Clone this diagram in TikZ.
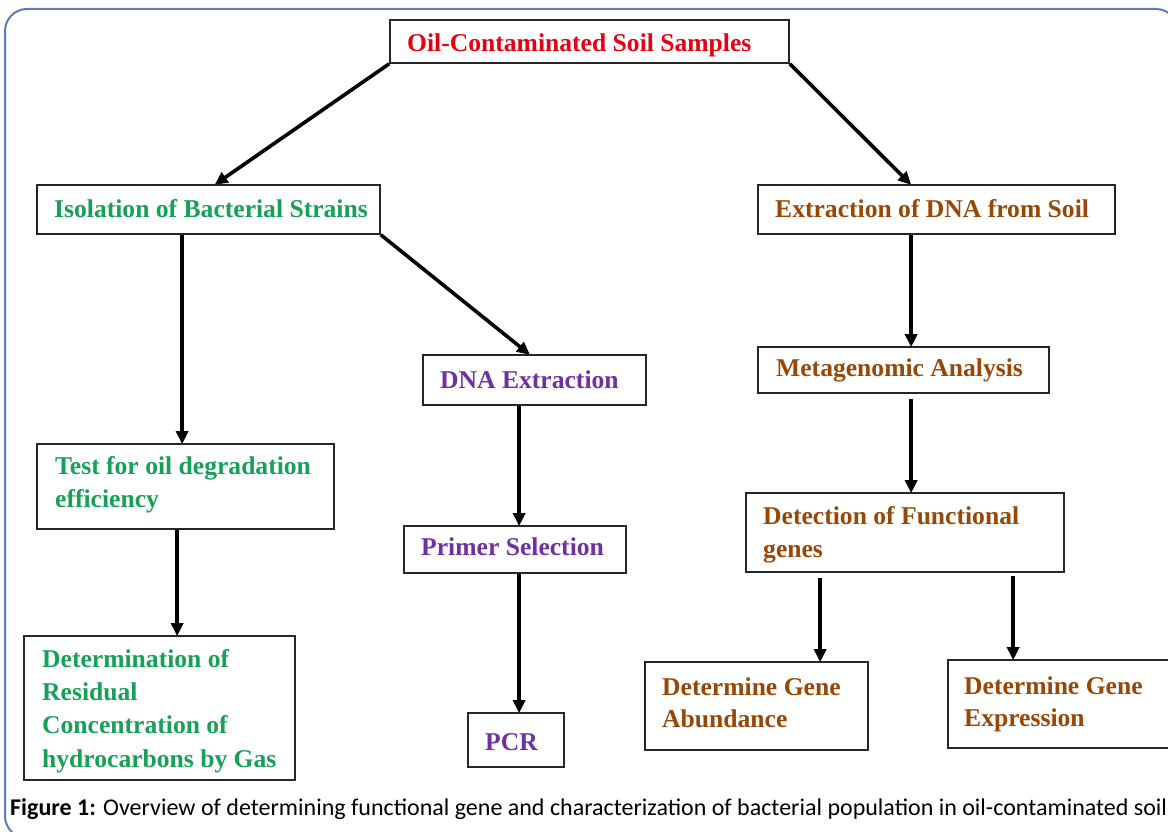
\documentclass[tikz,border=0pt]{standalone}
\usepackage{fontspec}
\setmainfont{Liberation Serif}
\newfontfamily\capfont{Carlito}
\usetikzlibrary{arrows.meta,calc,fit}
\definecolor{framec}{RGB}{96,122,186}
\definecolor{redt}{RGB}{232,0,18}
\definecolor{greent}{RGB}{22,160,88}
\definecolor{purplet}{RGB}{112,48,160}
\definecolor{brownt}{RGB}{152,72,6}
\begin{document}
\begin{tikzpicture}[x=1pt,y=-1pt,
  box/.style={draw=black!85,line width=1.7pt,inner sep=0pt,fill=white},
  lbl/.style={anchor=base west,inner sep=0pt,font=\fontsize{25.6}{30}\selectfont\bfseries},
  arr/.style={draw=black,line width=3.6pt,-{Triangle[length=13pt,width=12pt]},shorten >=-1pt}]
\useasboundingbox (0,0) rectangle (1168,832);
\begin{scope}
\clip (0,0) rectangle (1168,832);
\draw[framec,line width=2pt,rounded corners=22pt] (5,9) rectangle (1178,838);
\end{scope}
% boxes
\node[box,fit={(390,20)(789,63)}] (top) {};
\node[box,fit={(37,185)(380,234)}] (iso) {};
\node[box,fit={(758,185)(1115,234)}] (ext) {};
\node[box,fit={(423,355)(646,405)}] (dna) {};
\node[box,fit={(758,347)(1049,393)}] (meta) {};
\node[box,fit={(37,444)(334,529)}] (test) {};
\node[box,fit={(404,526)(626,573)}] (primer) {};
\node[box,fit={(746,493)(1064,572)}] (detf) {};
\node[box,fit={(24,636)(295,780)}] (detr) {};
\node[box,fit={(468,713)(564,767)}] (pcr) {};
\node[box,fit={(645,662)(868,750)}] (abund) {};
\node[box,fit={(948,660)(1185,748)}] (expr) {};
% texts
\node[lbl,text=redt] (ttop) at (407,52) {Oil-Contaminated Soil Samples};
\node[lbl,text=greent] (tiso) at (54,217) {Isolation of Bacterial Strains};
\node[lbl,text=brownt] (text) at (775,217) {Extraction of DNA from Soil};
\node[lbl,text=purplet] (tdna) at (440,388) {DNA Extraction};
\node[lbl,text=brownt] (tmeta) at (776,376) {Metagenomic Analysis};
\node[lbl,text=greent] (ttest1) at (55,474) {Test for oil degradation};
\node[lbl,text=greent] (ttest2) at (55,507) {efficiency};
\node[lbl,text=purplet] (tprim) at (421,555) {Primer Selection};
\node[lbl,text=brownt] (tdetf1) at (763,524) {Detection of Functional};
\node[lbl,text=brownt] (tdetf2) at (763,557) {genes};
\node[lbl,text=greent] (tdr1) at (42,667) {Determination of};
\node[lbl,text=greent] (tdr2) at (42,700) {Residual};
\node[lbl,text=greent] (tdr3) at (42,733) {Concentration of};
\node[lbl,text=greent] (tdr4) at (42,767) {hydrocarbons by Gas};
\node[lbl,text=purplet] (tpcr) at (485,750) {PCR};
\node[lbl,text=brownt] (tab1) at (662,695) {Determine Gene};
\node[lbl,text=brownt] (tab2) at (662,727) {Abundance};
\node[lbl,text=brownt] (tex1) at (964,694) {Determine Gene};
\node[lbl,text=brownt] (tex2) at (964,726) {Expression};
% caption
\node[anchor=base west,inner sep=0pt] (cap) at (10,815) {\resizebox{1157pt}{!}{\capfont\fontsize{20}{24}\selectfont\textbf{Figure 1:} Overview of determining functional gene and characterization of bacterial population in oil-contaminated soil}};
% connectors
\draw[arr] (top.south west) -- ($(iso.north)+(7,0)$);
\draw[arr] (top.south east) -- ($(ext.north)+(-26,0)$);
\draw[arr] ($(iso.south west)+(146,0)$) -- ($(test.north west)+(146,0)$);
\draw[arr] (iso.south east) -- ($(dna.north west)+(107,0)$);
\draw[arr] ($(dna.south west)+(97,0)$) -- ($(primer.north west)+(116,0)$);
\draw[arr] ($(test.south west)+(141,0)$) -- ($(detr.north west)+(154,0)$);
\draw[arr] ($(primer.south west)+(116,0)$) -- ($(pcr.north west)+(52,0)$);
\draw[arr] ($(ext.south west)+(154,0)$) -- ($(meta.north west)+(154,0)$);
\draw[arr] ($(meta.south west)+(154,5)$) -- ($(detf.north west)+(166,0)$);
\draw[arr] ($(detf.south west)+(75,5)$) -- ($(abund.north west)+(176,0)$);
\draw[arr] ($(detf.south west)+(268,3)$) -- ($(expr.north west)+(66,0)$);
\end{tikzpicture}
\end{document}
